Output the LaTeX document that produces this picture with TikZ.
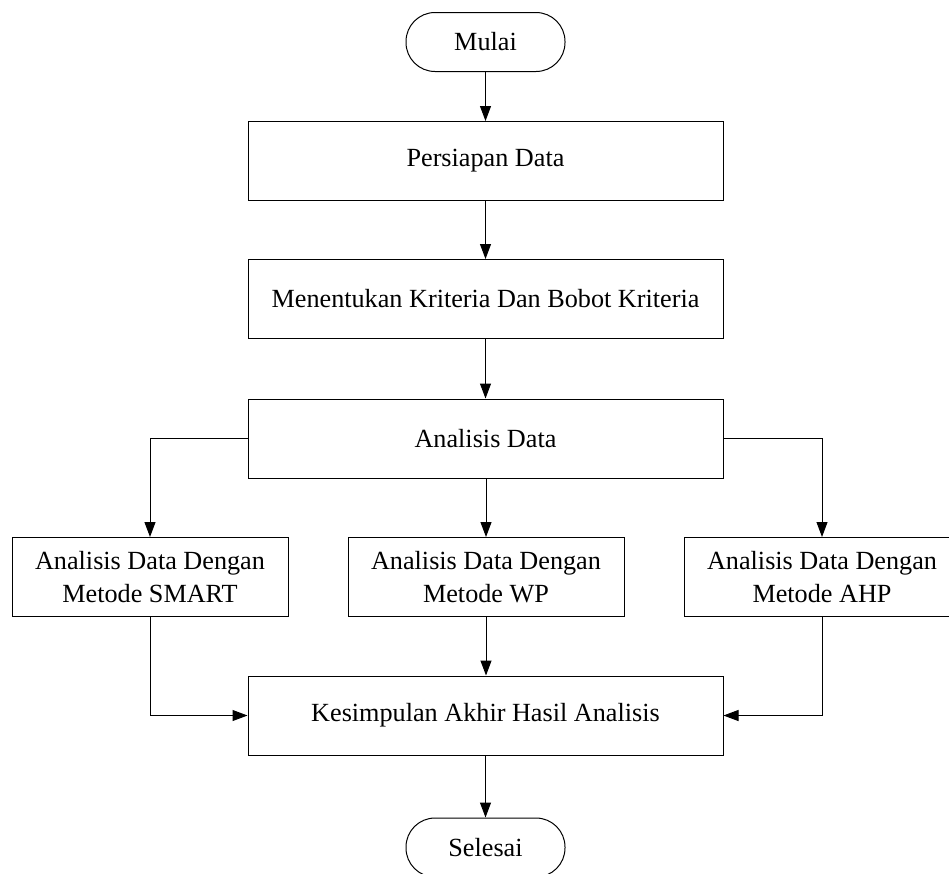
\documentclass[tikz,border=0pt]{standalone}
\usepackage{fontspec}
\setmainfont{Liberation Serif}
\usetikzlibrary{arrows.meta}
\begin{document}
\begin{tikzpicture}[x=1pt,y=-1pt,
  txt/.style={font=\fontsize{26.2}{33}\selectfont, align=center, inner sep=0pt},
  procbox/.style={txt, draw, line width=1pt, minimum width=475pt, minimum height=79pt},
  methodbox/.style={txt, draw, line width=1pt, minimum width=276pt, minimum height=79pt},
  terminal/.style={txt, draw, line width=1pt, minimum width=159pt, minimum height=59pt, rounded corners=29pt},
  flow/.style={line width=1pt, -{Triangle[length=15pt,width=11pt]}}
]
% page frame (the lower terminal and right box run past it)
\clip (0,0) rectangle (949,873);

% nodes
\node[terminal] (mulai) at (485.5,42) {Mulai};
\node[procbox] (prep) at (485.5,161) {Persiapan Data};
\node[procbox] (krit) at (485.5,299) {Menentukan Kriteria Dan Bobot Kriteria};
\node[procbox] (anal) at (485.5,438.5) {Analisis Data};
\node[methodbox] (smart) at (150,577) {Analisis Data Dengan\\Metode SMART};
\node[methodbox] (wp) at (486,577) {Analisis Data Dengan\\Metode WP};
\node[methodbox] (ahp) at (822,577) {Analisis Data Dengan\\Metode AHP};
\node[procbox] (kes) at (485.5,715.5) {Kesimpulan Akhir Hasil Analisis};
\node[terminal] (selesai) at (485.5,847.5) {Selesai};

% connectors
\draw[flow] (mulai) -- (prep);
\draw[flow] (prep) -- (krit);
\draw[flow] (krit) -- (anal);
\draw[flow] (anal.west) -| (smart.north);
\draw[flow] (anal.south -| wp.north) -- (wp.north);
\draw[flow] (anal.east) -| (ahp.north);
\draw[flow] (smart.south) |- (kes.west);
\draw[flow] (wp.south) -- (kes.north -| wp.south);
\draw[flow] (ahp.south) |- (kes.east);
\draw[flow] (kes) -- (selesai);
\end{tikzpicture}
\end{document}
